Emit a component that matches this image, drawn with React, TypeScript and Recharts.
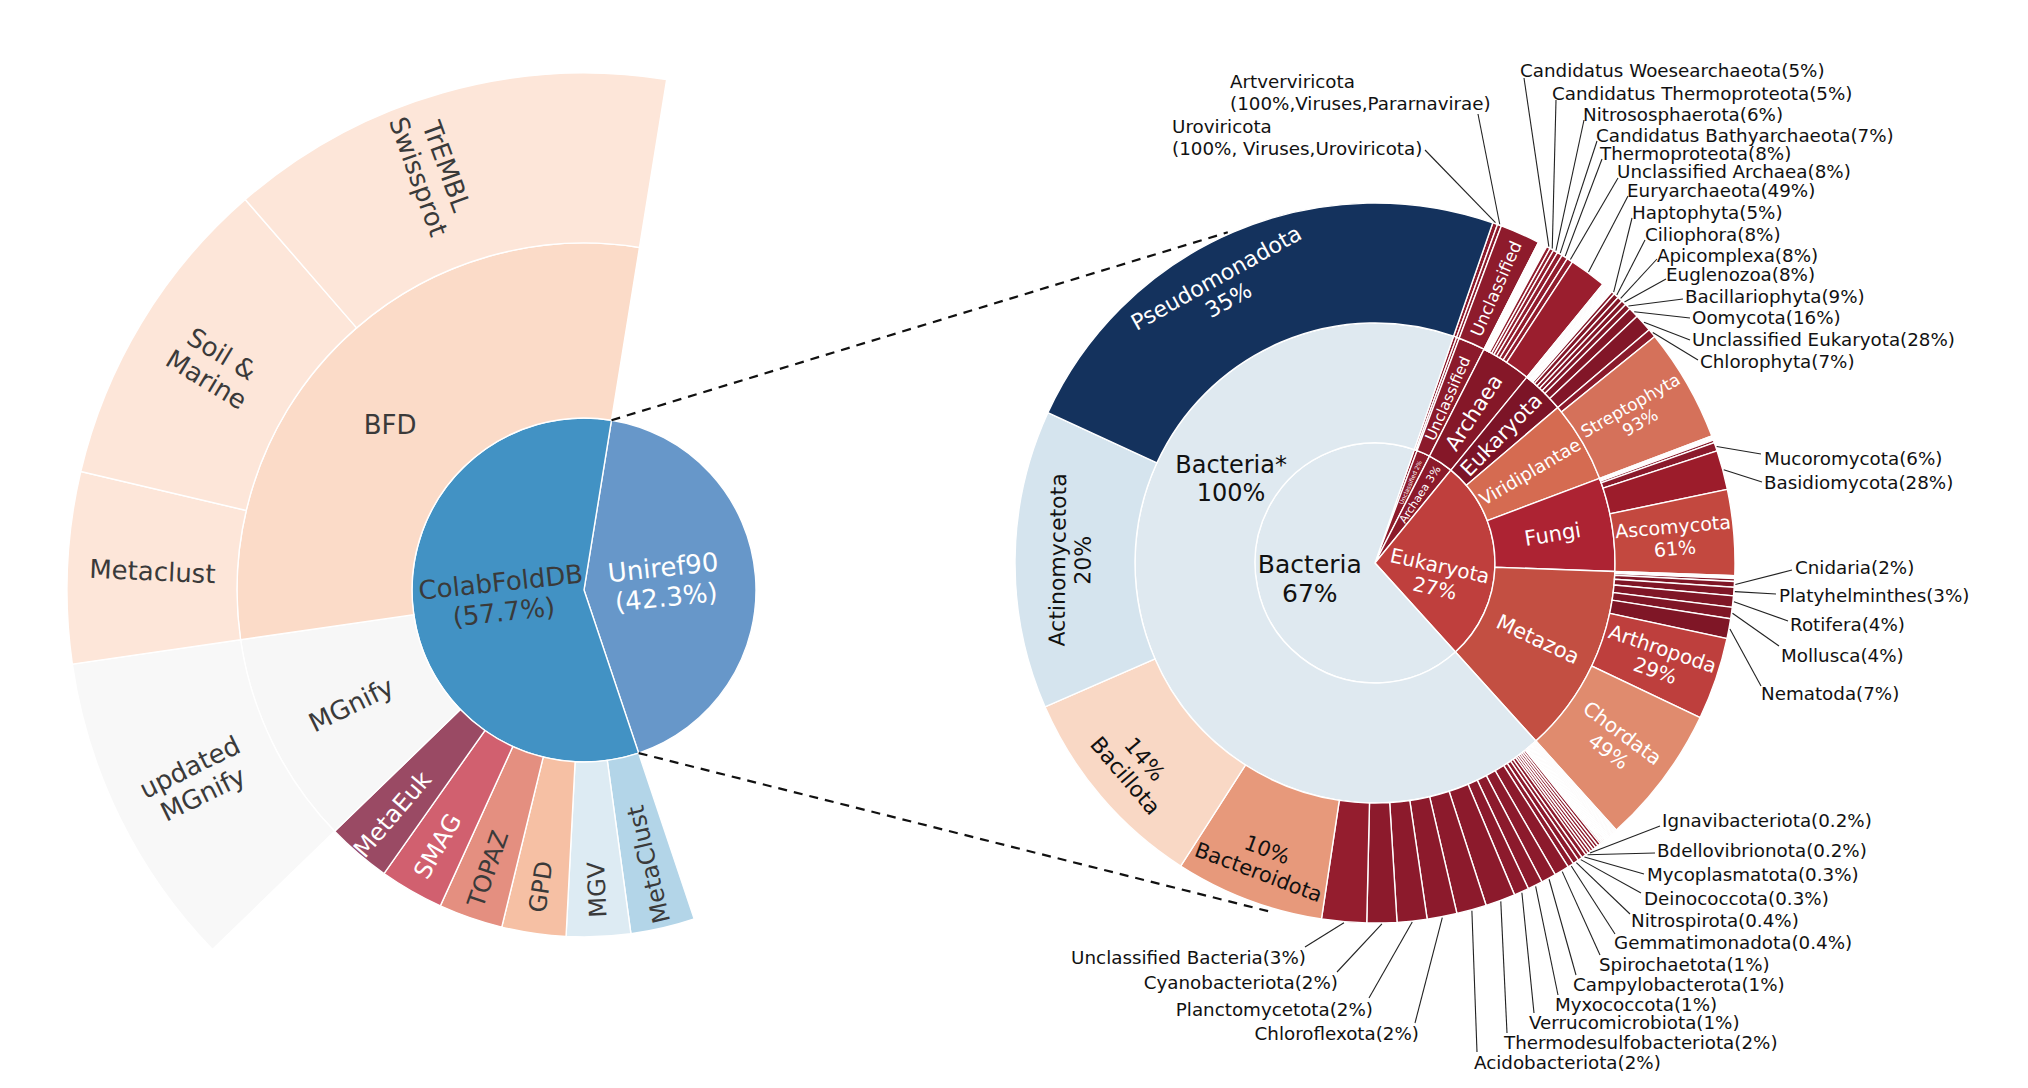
import { PieChart, Pie, Cell } from "recharts"

const FONT = '"DejaVu Sans", Verdana, sans-serif'
const RAD = Math.PI / 180

// ---------- left sunburst: ColabFold search databases ----------
const dbLevel1 = ["Uniref90", "ColabFoldDB"]
const dbLevel1Values = [42.3, 57.7]
const colabParts = ["MetaClust", "MGV", "GPD", "TOPAZ", "SMAG", "MetaEuk", "MGnify", "BFD"]
const colabPartValues = [3, 3, 3, 3, 3, 3, 10, 30]
const bfdParts = ["Metaclust", "Soil & Marine", "TrEMBL Swissprot"]
const bfdPartValues = [6, 10, 14]
const mgnifyParts = ["updated MGnify"]
const mgnifyPartValues = [10]

// ---------- right sunburst: taxonomy ----------
const domains = ["Viruses", "Unclassified", "Archaea", "Eukaryota", "Bacteria"]
const domainValues = [0.4, 1.8, 3.4, 27.4, 67]

const virusGroups = ["Uroviricota·2", "Pararnavirae"]
const virusGroupValues = [55, 45]
const eukGroups = ["Eukaryota·2", "Viridiplantae", "Fungi", "Metazoa"]
const eukGroupValues = [10.5, 20, 23, 46.5]

const archaeaPhyla = [
  "Candidatus Woesearchaeota", "Candidatus Thermoproteota", "Nitrososphaerota",
  "Candidatus Bathyarchaeota", "Thermoproteota", "Unclassified Archaea", "Euryarchaeota",
]
const archaeaPhylaValues = [5, 5, 6, 7, 8, 8, 49]
const archaeaMinor = [0.5, 0.5, 0.5, 0.5, 1, 1, 1, 1, 1.5, 1.5, 1.5, 1.5]

const otherEukPhyla = [
  "Haptophyta", "Ciliophora", "Apicomplexa", "Euglenozoa",
  "Bacillariophyta", "Oomycota", "Unclassified Eukaryota",
]
const otherEukPhylaValues = [5, 8, 8, 8, 9, 16, 28]
const otherEukMinor = [0.5, 0.5, 0.5, 0.5, 0.5, 0.5, 1, 1, 1, 1, 1, 2, 2, 2, 2, 2]

const plantPhyla = ["Chlorophyta", "Streptophyta"]
const plantPhylaValues = [7, 93]
const fungiPhyla = ["Mucoromycota", "Basidiomycota", "Ascomycota"]
const fungiPhylaValues = [6, 28, 61]
const fungiMinor = [1, 1, 1, 2]
const metazoaPhyla = ["Cnidaria", "Platyhelminthes", "Rotifera", "Mollusca", "Nematoda", "Arthropoda", "Chordata"]
const metazoaPhylaValues = [2, 3, 4, 4, 7, 29, 49]
const metazoaMinor = [0.5, 0.5, 1]

const bacteriaPhyla = [
  "Ignavibacteriota", "Bdellovibrionota", "Mycoplasmatota", "Deinococcota", "Nitrospirota",
  "Gemmatimonadota", "Spirochaetota", "Campylobacterota", "Myxococcota", "Verrucomicrobiota",
  "Thermodesulfobacteriota", "Acidobacteriota", "Chloroflexota", "Planctomycetota",
  "Cyanobacteriota", "Unclassified Bacteria", "Bacteroidota", "Bacillota", "Actinomycetota",
  "Pseudomonadota",
]
const bacteriaPhylaValues = [0.2, 0.2, 0.3, 0.3, 0.4, 0.4, 1, 1, 1, 1, 2, 2, 2, 2, 2, 3, 10, 14, 20, 35]
const bacteriaMinor = [
  0.02, 0.02, 0.02, 0.02, 0.02, 0.02, 0.02, 0.02, 0.02, 0.02,
  0.04, 0.04, 0.04, 0.04, 0.04, 0.04, 0.04, 0.04, 0.04, 0.04,
  0.08, 0.08, 0.08, 0.08, 0.08, 0.1, 0.1, 0.1, 0.1, 0.2, 0.2, 0.2, 0.2,
]

type Node = { id: string; value: number; pct?: number; gap?: boolean; parent?: string }

const mk = (ids: string[], vals: number[], minor: number[] = [], tag = "") => [
  ...minor.map((v, i) => ({ id: `${tag}-m${i}`, value: v })),
  ...ids.map((id, i) => ({ id, value: vals[i] })),
]

function nextRing(parents: Node[], kids: Record<string, Node[]>): Node[] {
  const out: Node[] = []
  parents.forEach((p) => {
    const k = p.gap ? undefined : kids[p.id]
    if (!k) {
      out.push({ id: "gap-" + p.id, value: p.value, gap: true })
      return
    }
    const tot = k.reduce((s, c) => s + c.value, 0)
    k.forEach((c) => out.push({ ...c, value: (p.value * c.value) / tot, pct: c.value, parent: p.id }))
  })
  return out
}

const db1: Node[] = mk(dbLevel1, dbLevel1Values)
const db2 = nextRing(db1, { ColabFoldDB: mk(colabParts, colabPartValues) })
const db3 = nextRing(db2, { BFD: mk(bfdParts, bfdPartValues), MGnify: mk(mgnifyParts, mgnifyPartValues) })

const tx1: Node[] = mk(domains, domainValues)
const tx2 = nextRing(tx1, {
  Viruses: mk(virusGroups, virusGroupValues),
  Unclassified: mk(["Unclassified·2"], [100]),
  Archaea: mk(["Archaea·2"], [100]),
  Eukaryota: mk(eukGroups, eukGroupValues),
  Bacteria: mk(["Bacteria*"], [100]),
})
const tx3 = nextRing(tx2, {
  "Uroviricota·2": mk(["Uroviricota"], [100]),
  Pararnavirae: mk(["Artverviricota"], [100]),
  "Unclassified·2": mk(["Unclassified·3"], [100]),
  "Archaea·2": mk(archaeaPhyla, archaeaPhylaValues, archaeaMinor, "arc"),
  "Eukaryota·2": mk(otherEukPhyla, otherEukPhylaValues, otherEukMinor, "euk"),
  Viridiplantae: mk(plantPhyla, plantPhylaValues),
  Fungi: mk(fungiPhyla, fungiPhylaValues, fungiMinor, "fun"),
  Metazoa: mk(metazoaPhyla, metazoaPhylaValues, metazoaMinor, "met"),
  "Bacteria*": mk(bacteriaPhyla, bacteriaPhylaValues, bacteriaMinor, "bac"),
})

const fills: Record<string, string> = {
  Uniref90: "#6797c9", ColabFoldDB: "#4292c4", BFD: "#fbdbc8", MGnify: "#f7f7f7",
  MetaEuk: "#9a4a64", SMAG: "#d1606f", TOPAZ: "#e48f80", GPD: "#f6c0a4", MGV: "#ddebf3", MetaClust: "#b3d5e8",
  Metaclust: "#fde6d9", "Soil & Marine": "#fde6d9", "TrEMBL Swissprot": "#fde6d9", "updated MGnify": "#f8f8f8",
  Bacteria: "#dfe9f0", "Bacteria*": "#dfe9f0", Pseudomonadota: "#14325d", Actinomycetota: "#d5e4ee",
  Bacillota: "#f9d8c5", Bacteroidota: "#e7997b", "Unclassified Bacteria": "#941d2e",
  Eukaryota: "#bf3f3d", "Eukaryota·2": "#7c1427", Viridiplantae: "#d56b51", Fungi: "#ad2333", Metazoa: "#c34f42",
  Streptophyta: "#d5715a", Ascomycota: "#c3483f", Basidiomycota: "#9c1c2b", Arthropoda: "#be3f3d", Chordata: "#e08b6e",
  Euryarchaeota: "#9a1e2e",
  Archaea: "#8c1a2b", "Archaea·2": "#851728", Unclassified: "#8e1b2c", "Unclassified·2": "#8c1a2b",
  "Unclassified·3": "#8e1b2c", Viruses: "#8e1b2c",
}
const groupFill: Record<string, string> = {
  "Bacteria*": "#8c1a2c", "Archaea·2": "#901c2d", "Eukaryota·2": "#821628",
  Viridiplantae: "#8a1a2b", Fungi: "#8a1a2b", Metazoa: "#7f1626",
}
const fillOf = (n: Node) => (n.gap ? "none" : fills[n.id] ?? groupFill[n.parent ?? ""] ?? "#8c1a2c")

type Inside = { lines: string[]; size: number; color: string; rot: "tan" | "out" | "in" | number; r?: number; da?: number }
type Leader = { x: number; y: number; ex: number; ey: number; anchor: "start" | "end"; lines?: string[] }

const DARK = "#3a3a3a"
const leftInside: Record<string, Inside> = {
  Uniref90: { lines: ["Uniref90", "(42.3%)"], size: 26, color: "#fff", rot: -6, r: 81, da: -1 },
  ColabFoldDB: { lines: ["ColabFoldDB", "(57.7%)"], size: 26, color: DARK, rot: -6, r: 82 },
  BFD: { lines: ["BFD"], size: 26, color: DARK, rot: 0, r: 255, da: -5 },
  MGnify: { lines: ["MGnify"], size: 26, color: DARK, rot: "in" },
  MetaEuk: { lines: ["MetaEuk"], size: 24, color: "#fff", rot: "in", r: 295 },
  SMAG: { lines: ["SMAG"], size: 24, color: "#fff", rot: "in", r: 295 },
  TOPAZ: { lines: ["TOPAZ"], size: 24, color: DARK, rot: "in", r: 295 },
  GPD: { lines: ["GPD"], size: 24, color: DARK, rot: "in", r: 300 },
  MGV: { lines: ["MGV"], size: 24, color: DARK, rot: "in", r: 300 },
  MetaClust: { lines: ["MetaClust"], size: 24, color: DARK, rot: "in", r: 282 },
  Metaclust: { lines: ["Metaclust"], size: 26, color: DARK, rot: "in" },
  "Soil & Marine": { lines: ["Soil &", "Marine"], size: 26, color: DARK, rot: "in" },
  "TrEMBL Swissprot": { lines: ["TrEMBL", "Swissprot"], size: 26, color: DARK, rot: "in", r: 445, da: -4 },
  "updated MGnify": { lines: ["updated", "MGnify"], size: 26, color: DARK, rot: "in" },
}

const INK = "#111"
const rightInside: Record<string, Inside> = {
  Bacteria: { lines: ["Bacteria", "67%"], size: 25, color: INK, rot: 0, r: 67, da: -2 },
  "Bacteria*": { lines: ["Bacteria*", "100%"], size: 24, color: INK, rot: 0, r: 167, da: 42 },
  Pseudomonadota: { lines: ["Pseudomonadota", "35%"], size: 22, color: "#fff", rot: "tan", r: 314, da: -6 },
  Actinomycetota: { lines: ["Actinomycetota", "20%"], size: 22, color: INK, rot: "tan", r: 305 },
  Bacillota: { lines: ["14%", "Bacillota"], size: 22, color: INK, rot: "tan", r: 315 },
  Bacteroidota: { lines: ["10%", "Bacteroidota"], size: 21, color: INK, rot: "tan", r: 318 },
  Eukaryota: { lines: ["Eukaryota", "27%"], size: 20, color: "#fff", rot: "out", r: 64, da: 14 },
  Viridiplantae: { lines: ["Viridiplantae"], size: 18, color: "#fff", rot: "out" },
  Fungi: { lines: ["Fungi"], size: 21, color: "#fff", rot: "out" },
  Metazoa: { lines: ["Metazoa"], size: 21, color: "#fff", rot: "out" },
  "Eukaryota·2": { lines: ["Eukaryota"], size: 21, color: "#fff", rot: "out" },
  "Archaea·2": { lines: ["Archaea"], size: 21, color: "#fff", rot: "out" },
  "Unclassified·2": { lines: ["Unclassified"], size: 15, color: "#fff", rot: "out" },
  "Unclassified·3": { lines: ["Unclassified"], size: 17, color: "#fff", rot: "out" },
  Streptophyta: { lines: ["Streptophyta", "93%"], size: 17, color: "#fff", rot: "out" },
  Ascomycota: { lines: ["Ascomycota", "61%"], size: 19, color: "#fff", rot: "out" },
  Arthropoda: { lines: ["Arthropoda", "29%"], size: 20, color: "#fff", rot: "out" },
  Chordata: { lines: ["Chordata", "49%"], size: 20, color: "#fff", rot: "out" },
  Archaea: { lines: ["Archaea 3%"], size: 11, color: "#fff", rot: "out", r: 82 },
  Unclassified: { lines: ["Unclassified 2%"], size: 6, color: "#fff", rot: "out", r: 88 },
}

// label text position (x, y), and where its leader line meets the text (ex, ey)
const leftAligned: [string, number, number, number, number][] = [
  ["Candidatus Woesearchaeota", 1520, 70, 1524, 78],
  ["Candidatus Thermoproteota", 1552, 93, 1556, 100],
  ["Nitrososphaerota", 1583, 114, 1584, 120],
  ["Candidatus Bathyarchaeota", 1596, 135, 1597, 141],
  ["Thermoproteota", 1600, 153, 1602, 159],
  ["Unclassified Archaea", 1617, 171, 1618, 178],
  ["Euryarchaeota", 1627, 190, 1628, 196],
  ["Haptophyta", 1632, 212, 1632, 218],
  ["Ciliophora", 1645, 234, 1645, 240],
  ["Apicomplexa", 1657, 255, 1657, 259],
  ["Euglenozoa", 1666, 274, 1666, 279],
  ["Bacillariophyta", 1685, 296, 1683, 299],
  ["Oomycota", 1692, 317, 1690, 318],
  ["Unclassified Eukaryota", 1692, 339, 1690, 340],
  ["Chlorophyta", 1700, 361, 1698, 360],
  ["Mucoromycota", 1764, 458, 1761, 454],
  ["Basidiomycota", 1764, 482, 1762, 482],
  ["Cnidaria", 1795, 567, 1792, 570],
  ["Platyhelminthes", 1779, 595, 1776, 594],
  ["Rotifera", 1790, 624, 1788, 621],
  ["Mollusca", 1781, 655, 1779, 646],
  ["Nematoda", 1761, 693, 1761, 686],
  ["Ignavibacteriota", 1662, 820, 1660, 826],
  ["Bdellovibrionota", 1657, 850, 1655, 853],
  ["Mycoplasmatota", 1647, 874, 1644, 874],
  ["Deinococcota", 1644, 898, 1641, 893],
  ["Nitrospirota", 1631, 920, 1630, 914],
  ["Gemmatimonadota", 1614, 942, 1615, 934],
  ["Spirochaetota", 1599, 964, 1600, 955],
  ["Campylobacterota", 1573, 984, 1576, 975],
  ["Myxococcota", 1555, 1004, 1558, 995],
  ["Verrucomicrobiota", 1529, 1022, 1534, 1013],
  ["Thermodesulfobacteriota", 1504, 1042, 1507, 1033],
  ["Acidobacteriota", 1474, 1062, 1477, 1052],
]
const rightAligned: [string, number, number, number, number][] = [
  ["Unclassified Bacteria", 1306, 957, 1305, 947],
  ["Cyanobacteriota", 1338, 982, 1337, 972],
  ["Planctomycetota", 1373, 1009, 1369, 998],
  ["Chloroflexota", 1419, 1033, 1415, 1023],
]
const leaders: Record<string, Leader> = {
  Uroviricota: { x: 1172, y: 126, ex: 1425, ey: 150, anchor: "start", lines: ["Uroviricota", "(100%, Viruses,Uroviricota)"] },
  Artverviricota: { x: 1230, y: 81, ex: 1478, ey: 114, anchor: "start", lines: ["Artverviricota", "(100%,Viruses,Pararnavirae)"] },
}
leftAligned.forEach(([id, x, y, ex, ey]) => (leaders[id] = { x, y, ex, ey, anchor: "start" }))
rightAligned.forEach(([id, x, y, ex, ey]) => (leaders[id] = { x, y, ex, ey, anchor: "end" }))

const norm = (a: number) => {
  let x = ((a % 360) + 360) % 360
  if (x > 180) x -= 360
  return x
}

function makeLabel(inside: Record<string, Inside>, lead: Record<string, Leader>) {
  return (p: any) => {
    const id: string = p?.payload?.id ?? p.name
    const { cx, cy } = p
    const ins = inside[id]
    if (ins) {
      const phi = 90 - p.midAngle + (ins.da ?? 0)
      const r = ins.r ?? (p.innerRadius + p.outerRadius) / 2
      const x = cx + r * Math.sin(phi * RAD)
      const y = cy - r * Math.cos(phi * RAD)
      let rot: number
      if (typeof ins.rot === "number") rot = ins.rot
      else if (ins.rot === "tan") {
        rot = norm(phi)
        if (rot > 90) rot -= 180
        if (rot <= -90) rot += 180
      } else if (ins.rot === "out") rot = norm(phi - 90)
      else rot = norm(phi + 90)
      const n = ins.lines.length
      return (
        <text key={id} x={x} y={y} transform={`rotate(${rot.toFixed(2)} ${x.toFixed(1)} ${y.toFixed(1)})`}
          textAnchor="middle" fontSize={ins.size} fill={ins.color} fontFamily={FONT}>
          {ins.lines.map((l, i) => (
            <tspan key={i} x={x} dy={i === 0 ? `${(-(n - 1) * 0.575 + 0.36).toFixed(3)}em` : "1.15em"}>{l}</tspan>
          ))}
        </text>
      )
    }
    const ld = lead[id]
    if (ld) {
      const phi = 90 - p.midAngle
      const r0 = p.outerRadius + 1
      const sx = cx + r0 * Math.sin(phi * RAD)
      const sy = cy - r0 * Math.cos(phi * RAD)
      const lines = ld.lines ?? [`${id}(${p.payload.pct}%)`]
      return (
        <g key={id}>
          <line x1={sx} y1={sy} x2={ld.ex} y2={ld.ey} stroke="#222" strokeWidth={1.1} />
          <text x={ld.x} y={ld.y} textAnchor={ld.anchor} fontSize={18.3} fill={INK} fontFamily={FONT}>
            {lines.map((l, i) => (
              <tspan key={i} x={ld.x} dy={i === 0 ? "0.36em" : "1.2em"}>{l}</tspan>
            ))}
          </text>
        </g>
      )
    }
    return <g key={"x" + id} />
  }
}

const leftLabel = makeLabel(leftInside, {})
const rightLabel = makeLabel(rightInside, leaders)

// geometry
const LX = 584, LY = 590
const LR = [0, 172, 347, 517]
const L_START_CW = 9.2
const RX = 1375, RY = 563
const RR = [0, 120, 240, 360]
const R_START_CW = 19.1

function ring(data: Node[], key: string, cx: number, cy: number, r0: number, r1: number, startCw: number, label: any) {
  const start = 90 - startCw
  return (
    <Pie key={key} data={data} dataKey="value" nameKey="id" cx={cx} cy={cy} innerRadius={r0} outerRadius={r1}
      startAngle={start} endAngle={start - 360} isAnimationActive={false} label={label} labelLine={false}>
      {data.map((n) => (
        <Cell key={n.id} fill={fillOf(n)} stroke={n.gap ? "none" : "#fff"} strokeWidth={n.gap ? 0 : 1.4} />
      ))}
    </Pie>
  )
}

const pt = (cx: number, cy: number, r: number, cw: number) => [cx + r * Math.sin(cw * RAD), cy - r * Math.cos(cw * RAD)]

export default function App() {
  const uniShare = (dbLevel1Values[0] / dbLevel1Values.reduce((a, b) => a + b, 0)) * 360
  const a1 = pt(LX, LY, LR[1], L_START_CW)
  const a2 = pt(LX, LY, LR[1], L_START_CW + uniShare)
  const b1 = pt(RX, RY, RR[3] + 2, 336)
  const b2 = pt(RX, RY, RR[3] + 4, 196.4)
  return (
    <div style={{ position: "absolute", left: 0, top: 0, width: 2028, height: 1088, background: "#fff" }}>
      <PieChart width={2028} height={1088} margin={{ top: 0, right: 0, bottom: 0, left: 0 }}>
        {ring(db1, "l1", LX, LY, LR[0], LR[1], L_START_CW, leftLabel)}
        {ring(db2, "l2", LX, LY, LR[1], LR[2], L_START_CW, leftLabel)}
        {ring(db3, "l3", LX, LY, LR[2], LR[3], L_START_CW, leftLabel)}
        {ring(tx1, "r1", RX, RY, RR[0], RR[1], R_START_CW, rightLabel)}
        {ring(tx2, "r2", RX, RY, RR[1], RR[2], R_START_CW, rightLabel)}
        {ring(tx3, "r3", RX, RY, RR[2], RR[3], R_START_CW, rightLabel)}
      </PieChart>
      <svg width={2028} height={1088} style={{ position: "absolute", left: 0, top: 0, pointerEvents: "none" }}>
        <line x1={a1[0]} y1={a1[1]} x2={b1[0]} y2={b1[1]} stroke="#111" strokeWidth={2.2} strokeDasharray="9 7" />
        <line x1={a2[0]} y1={a2[1]} x2={b2[0]} y2={b2[1]} stroke="#111" strokeWidth={2.2} strokeDasharray="9 7" />
      </svg>
    </div>
  )
}
